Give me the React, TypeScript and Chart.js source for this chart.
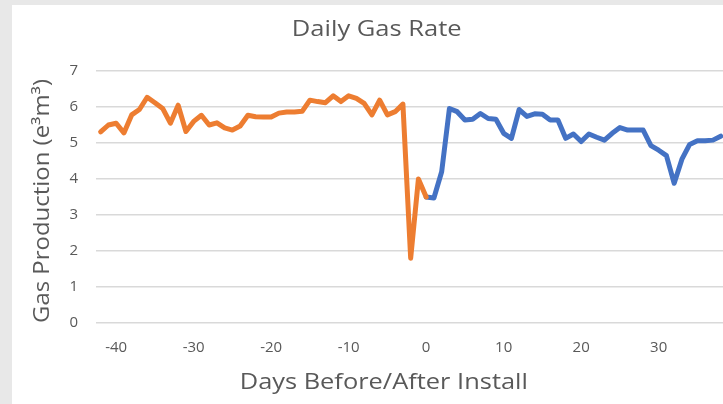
import React, { useEffect, useRef } from "react";
import { Chart, registerables } from "chart.js";

Chart.register(...registerables);

const chartTitle = "Daily Gas Rate";
const xAxisTitle = "Days Before/After Install";
const yAxisTitle = "Gas Production (e\u00B3m\u00B3)";

const beforeDays = [-42, -41, -40, -39, -38, -37, -36, -35, -34, -33, -32, -31, -30, -29, -28, -27, -26, -25, -24, -23, -22, -21, -20, -19, -18, -17, -16, -15, -14, -13, -12, -11, -10, -9, -8, -7, -6, -5, -4, -3, -2, -1, 0];
const beforeValues = [5.31, 5.5, 5.55, 5.28, 5.78, 5.93, 6.27, 6.12, 5.96, 5.55, 6.05, 5.32, 5.6, 5.77, 5.5, 5.56, 5.42, 5.36, 5.47, 5.77, 5.73, 5.72, 5.72, 5.83, 5.86, 5.86, 5.88, 6.19, 6.15, 6.12, 6.31, 6.15, 6.31, 6.24, 6.1, 5.78, 6.19, 5.78, 5.87, 6.08, 1.8, 4.0, 3.5];

const afterDays = [0, 1, 2, 3, 4, 5, 6, 7, 8, 9, 10, 11, 12, 13, 14, 15, 16, 17, 18, 19, 20, 21, 22, 23, 24, 25, 26, 27, 28, 29, 30, 31, 32, 33, 34, 35, 36, 37, 38];
const afterValues = [3.5, 3.47, 4.2, 5.96, 5.87, 5.64, 5.66, 5.82, 5.68, 5.66, 5.27, 5.13, 5.93, 5.74, 5.81, 5.8, 5.64, 5.64, 5.13, 5.25, 5.04, 5.25, 5.16, 5.08, 5.27, 5.43, 5.36, 5.36, 5.36, 4.93, 4.8, 4.65, 3.88, 4.55, 4.96, 5.06, 5.06, 5.08, 5.19];

const xTickValues = [-40, -30, -20, -10, 0, 10, 20, 30];
const yTickValues = [0, 1, 2, 3, 4, 5, 6, 7];

const FONT = "'Open Sans', Lato, sans-serif";
const TEXT = "#595959";

function drawStretched(ctx: any, text: string, x: number, y: number, size: number, stretch: number, rotate: number) {
  ctx.save();
  ctx.translate(x, y);
  if (rotate) ctx.rotate(rotate);
  ctx.scale(stretch, 1);
  ctx.font = `${size}px ${FONT}`;
  ctx.fillStyle = TEXT;
  ctx.textAlign = "center";
  ctx.textBaseline = "middle";
  ctx.fillText(text, 0, 0);
  ctx.restore();
}

const titlesPlugin = {
  id: "customTitles",
  afterDraw(chart: any) {
    const ctx = chart.ctx;
    const area = chart.chartArea;
    drawStretched(ctx, chartTitle, chart.width * 0.513, 25, 22, 1.16, 0);
    drawStretched(ctx, xAxisTitle, area.left + (area.right - area.left) * 0.459, area.bottom + 60, 21, 1.21, 0);
    drawStretched(ctx, yAxisTitle, 31, (area.top + area.bottom) / 2 + 4, 21, 1.14, -Math.PI / 2);
  },
};

export default function App() {
  const ref = useRef<HTMLCanvasElement | null>(null);
  useEffect(() => {
    document.body.style.margin = "0";
    const canvas = ref.current!;
    const chart = new Chart(canvas, {
      type: "line",
      data: {
        datasets: [
          {
            label: "Before",
            data: beforeDays.map((d, i) => ({ x: d, y: beforeValues[i] })),
            borderColor: "#ED7D31",
            backgroundColor: "#ED7D31",
            borderWidth: 5,
            pointRadius: 0,
            borderJoinStyle: "round",
            borderCapStyle: "round",
            tension: 0,
          },
          {
            label: "After",
            data: afterDays.map((d, i) => ({ x: d, y: afterValues[i] })),
            borderColor: "#4472C4",
            backgroundColor: "#4472C4",
            borderWidth: 5,
            pointRadius: 0,
            borderJoinStyle: "round",
            borderCapStyle: "round",
            tension: 0,
          },
        ],
      },
      options: {
        animation: false,
        responsive: false,
        maintainAspectRatio: false,
        layout: { padding: { top: 66, left: 0, right: 0, bottom: 0 } },
        plugins: {
          legend: { display: false },
          title: { display: false },
          tooltip: { enabled: false },
        },
        scales: {
          x: {
            type: "linear",
            min: -42.6,
            max: 38.3,
            grid: { display: false, drawTicks: false },
            border: { display: false },
            ticks: { color: TEXT, font: { family: FONT, size: 15 }, padding: 16, maxRotation: 0 },
            afterBuildTicks: (scale: any) => {
              scale.ticks = xTickValues.map((v) => ({ value: v }));
            },
            afterFit: (scale: any) => {
              scale.height = 81;
            },
          },
          y: {
            min: 0,
            max: 7,
            grid: { color: "#d9d9d9", lineWidth: 1.5, drawTicks: false },
            border: { display: false },
            ticks: { color: TEXT, font: { family: FONT, size: 15 }, padding: 18 },
            afterBuildTicks: (scale: any) => {
              scale.ticks = yTickValues.map((v) => ({ value: v }));
            },
            title: { display: false },
            afterFit: (scale: any) => {
              scale.width = 84;
            },
          },
        },
      } as any,
      plugins: [titlesPlugin],
    });
    return () => chart.destroy();
  }, []);

  return (
    <div style={{ position: "relative", width: 723, height: 404, background: "#e8e8e8", overflow: "hidden" }}>
      <div style={{ position: "absolute", left: 12, top: 5, width: 711, height: 399, background: "#ffffff" }}>
        <canvas ref={ref} width={711} height={399} style={{ display: "block" }} />
      </div>
    </div>
  );
}
